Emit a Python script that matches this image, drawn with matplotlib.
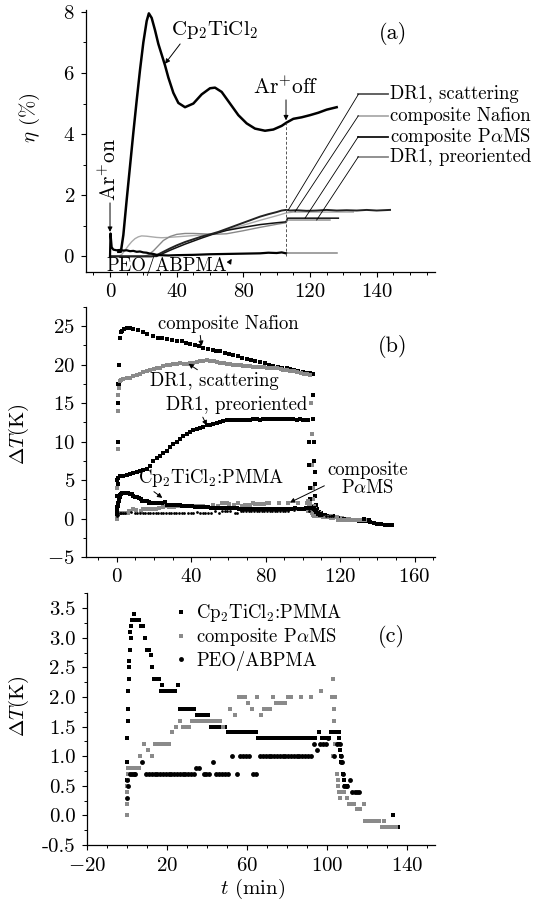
import numpy as np
import matplotlib
matplotlib.use('Agg')
import matplotlib.pyplot as plt
from matplotlib.ticker import MultipleLocator, FixedLocator

plt.rcParams.update({
    'font.family': 'serif',
    'font.serif': ['cmr10'],
    'mathtext.fontset': 'cm',
    'axes.formatter.use_mathtext': True,
    'axes.linewidth': 0.9,
})

# ---------------- panel (a): diffraction efficiency (%) vs t (min)
a_t_cp = [5, 6.5, 8, 10, 12, 14, 16, 18, 20, 22, 23.3, 25, 27, 29, 31, 33, 35, 38, 41, 45, 50, 55, 60, 63, 67,
          72, 77, 82, 87, 93, 98, 103, 106, 110, 115, 120, 125, 130, 136]
a_cp = [0.15, 0.15, 0.7, 1.85, 2.95, 4.05, 5.1, 6.1, 7.0, 7.7, 7.95, 7.8, 7.4, 6.95, 6.6, 6.25, 5.85, 5.35, 5.02,
        4.88, 5.0, 5.3, 5.5, 5.52, 5.38, 5.0, 4.62, 4.35, 4.18, 4.11, 4.15, 4.27, 4.38, 4.5, 4.55, 4.62, 4.7, 4.8, 4.88]

a_t_peo = [0, 0.3, 1, 2, 4, 6, 8, 10, 12, 14, 16, 18, 20, 22, 24, 26, 28, 30, 35, 40, 50, 60, 70, 80, 90, 95,
           100, 103, 105.6]
a_peo = [0.0, 0.75, 0.3, 0.22, 0.2, 0.21, 0.19, 0.2, 0.17, 0.18, 0.15, 0.16, 0.13, 0.12, 0.09, 0.08, 0.05, 0.04,
         0.03, 0.04, 0.05, 0.07, 0.08, 0.09, 0.1, 0.12, 0.11, 0.13, 0.1]
a_t_peo_off = [105.6, 136]
a_peo_off = [0.12, 0.12]

a_t_scat = [0, 25, 28, 32, 36, 40, 45, 50, 55, 60, 65, 70, 75, 80, 85, 90, 95, 100, 103, 105.6, 108, 112, 118,
            124, 130, 136, 142, 148, 154, 160, 168]
a_scat = [0, 0, 0.04, 0.15, 0.26, 0.36, 0.47, 0.56, 0.65, 0.72, 0.8, 0.9, 1.0, 1.1, 1.2, 1.3, 1.38, 1.45, 1.5,
          1.52, 1.5, 1.51, 1.49, 1.5, 1.52, 1.5, 1.51, 1.5, 1.52, 1.5, 1.52]

a_t_pams = [0, 28, 32, 36, 40, 45, 50, 55, 62, 70, 80, 90, 100, 105.6, 106.5, 115, 125, 137]
a_pams = [0, 0, 0.1, 0.2, 0.29, 0.4, 0.5, 0.6, 0.73, 0.85, 0.95, 1.04, 1.1, 1.13, 1.25, 1.25, 1.25, 1.25]

a_t_naf = [0, 5, 7, 9, 11, 13, 15, 17, 19, 22, 25, 28, 31, 35, 40, 45, 50, 55, 62, 70, 80, 90, 100, 105.6,
           110, 120, 130, 140, 146]
a_naf = [0, 0, 0.06, 0.2, 0.35, 0.48, 0.58, 0.64, 0.67, 0.66, 0.64, 0.62, 0.61, 0.62, 0.64, 0.66, 0.68, 0.7,
         0.74, 0.86, 1.02, 1.18, 1.33, 1.42, 1.45, 1.45, 1.45, 1.45, 1.45]

a_t_pre = [0, 20, 23, 26, 29, 32, 36, 40, 45, 50, 55, 62, 70, 80, 90, 100, 105.6, 106.5, 115, 125, 132]
a_pre = [0, 0, 0.05, 0.18, 0.35, 0.52, 0.65, 0.72, 0.75, 0.75, 0.74, 0.72, 0.74, 0.84, 0.95, 1.05, 1.1, 1.19,
         1.19, 1.19, 1.19]

a_labels = ['DR1, scattering', 'composite Nafion', r'composite P$\alpha$MS', 'DR1, preoriented']
a_colors = ['#555555', '#aaaaaa', '#111111', '#888888']
a_label_y = [5.3, 4.6, 3.92, 3.26]
a_tip_t = [107, 111, 117, 124]
a_tip_y = [1.52, 1.46, 1.25, 1.19]
t_off = 105.6

# ---------------- panel (b): big temperature rises (t, dT)
b_nafion = [(0, 0), (0.3, 5), (0.5, 10), (0.7, 15), (0.9, 17.5), (1.1, 17.3), (1.4, 20), (1.8, 23.5), (2.3, 24.2),
            (3, 24.4), (4, 24.6), (5.4, 24.75), (7, 24.7), (9, 24.6), (11.6, 24.5), (14, 24.2), (16.5, 23.9),
            (19.7, 23.65), (22, 23.5), (24.5, 23.4), (26.8, 23.3), (29.5, 23.2), (32.2, 23.1), (35, 23.0),
            (37, 22.8), (39.4, 22.66), (42, 22.5), (44, 22.35), (46.6, 22.2), (49, 22.0), (51.5, 21.9),
            (53.5, 21.8), (55.5, 21.7), (58, 21.5), (60.5, 21.4), (62.7, 21.25), (65, 21.1), (67.5, 20.9),
            (69.9, 20.75), (72, 20.6), (74.5, 20.45), (77, 20.3), (79.5, 20.2), (82, 20.0), (84.2, 19.85),
            (86.5, 19.7), (89, 19.6), (91.5, 19.5), (93, 19.4), (95, 19.3), (97.5, 19.2), (100, 19.0),
            (102, 18.9), (104, 18.85), (105.2, 18.8), (105.5, 16), (105.7, 13), (105.9, 10), (106.1, 7.5),
            (106.3, 6), (106.5, 4.5), (106.7, 3), (107, 1.8), (107.5, 1.2), (108.5, 0.9), (110, 0.7), (112, 0.5),
            (114, 0.4), (116, 0.3), (118, 0.2), (120, 0.1), (122, 0.0), (124, -0.1), (126, -0.15), (128, -0.2),
            (130, -0.25), (132, -0.25), (134, -0.3), (136, -0.4), (138, -0.55), (140, -0.7), (142, -0.72),
            (144, -0.75), (146, -0.75), (148, -0.75)]

b_scatter = [(0, 0), (0.3, 4), (0.5, 9), (0.7, 14), (0.9, 16), (1.2, 17), (1.8, 17.8), (2.5, 18.0), (3.5, 18.1),
             (5.4, 18.2), (7, 18.3), (9, 18.5), (10.7, 18.6), (12.5, 18.8), (14.3, 19.0), (16.1, 19.2),
             (18, 19.35), (20, 19.45), (21.5, 19.5), (23.3, 19.6), (25, 19.75), (27, 19.9), (28.7, 20.0),
             (30.5, 20.05), (32.5, 20.1), (34, 20.15), (36, 20.1), (37.6, 20.1), (39.5, 20.15), (41, 20.2),
             (43, 20.3), (45, 20.4), (46.5, 20.5), (48.4, 20.6), (50, 20.5), (52, 20.4), (53.7, 20.3),
             (55.5, 20.2), (57.5, 20.15), (59, 20.1), (60.8, 20.05), (62.7, 20.0), (64.5, 19.95), (66.5, 19.9),
             (68, 19.85), (70, 19.8), (71.5, 19.75), (73.4, 19.7), (75.5, 19.7), (77, 19.65), (79, 19.65),
             (81, 19.6), (82.5, 19.6), (84.2, 19.6), (86, 19.5), (88, 19.4), (89.5, 19.35), (91.5, 19.25),
             (93, 19.15), (95, 19.1), (97, 19.0), (99, 18.9), (100.5, 18.8), (102.3, 18.75), (103.9, 18.65),
             (104.5, 15), (104.8, 11), (105.1, 7), (105.4, 4), (105.7, 2.5), (106, 1.6), (106.5, 1.2),
             (107.5, 0.9), (109, 0.7), (111, 0.55), (113, 0.4), (115, 0.3), (117, 0.2), (119, 0.1), (121, 0.05),
             (123, 0.0), (125, -0.05), (127, -0.1), (129, -0.1), (131, -0.15), (133, -0.2)]

b_preor = [(0, 0), (0.2, 1.5), (0.4, 3), (0.6, 4.5), (0.9, 5.3), (1.5, 5.5), (3.6, 5.6), (5.4, 5.7), (7, 5.85),
           (8.9, 5.95), (10.7, 6.0), (12.5, 6.2), (14.3, 6.35), (16.1, 6.5), (18, 6.9), (19.7, 7.5), (21.5, 7.9),
           (23.3, 8.2), (25, 8.5), (26.8, 8.85), (28.7, 9.3), (30.4, 9.7), (32.2, 10.0), (34, 10.35),
           (35.8, 10.7), (37.6, 11.0), (39.4, 11.2), (41.2, 11.45), (43, 11.6), (44.7, 11.75), (46.5, 11.9),
           (48.4, 12.1), (50, 12.2), (51.9, 12.3), (53.7, 12.45), (55.5, 12.6), (57.3, 12.7), (59.1, 12.75),
           (61, 12.8), (62.7, 12.85), (64.5, 12.85), (66.3, 12.85), (68, 12.8), (69.8, 12.85), (71.6, 12.85),
           (73.4, 12.9), (75.2, 12.9), (77, 12.85), (78.8, 12.9), (80.6, 12.95), (82.4, 13.0), (84.2, 12.95),
           (86, 13.0), (87.8, 13.0), (89.6, 12.95), (91.3, 12.95), (93.1, 12.9), (94.9, 12.9), (96.7, 12.85),
           (98.5, 12.9), (100.3, 12.85), (102, 12.85), (103, 12.8), (103.3, 10), (103.5, 7), (103.7, 4),
           (104, 2.5), (104.5, 1.5), (105.5, 1.0), (107, 0.8), (109, 0.6), (111, 0.45), (113, 0.3), (116, 0.2),
           (119, 0.1), (122, 0.0), (125, -0.1), (128, -0.15), (131, -0.2)]

# ---------------- panel (c): small temperature rises (t, dT)
c_pmma = [(0.0, 0.6), (0.1, 0.9), (0.3, 1.3), (0.5, 1.6), (0.7, 1.8), (0.8, 2.1), (1.1, 2.3), (1.2, 2.5),
          (1.3, 2.6), (1.6, 2.8), (1.9, 3.0), (1.7, 3.1), (2.2, 3.2), (2.6, 3.3), (3.7, 3.4), (4.3, 3.3),
          (5.3, 3.3), (6.3, 3.3), (7.2, 3.2), (8.2, 3.2), (9.0, 3.0), (9.9, 2.8), (11.0, 2.8), (12.0, 2.7),
          (12.8, 2.5), (13.6, 2.3), (14.9, 2.3), (16.2, 2.3), (17.5, 2.2), (17.2, 2.1), (18.6, 2.1), (20.0, 2.1),
          (21.4, 2.1), (22.8, 2.1), (24.2, 2.1), (25.8, 2.2), (26.8, 1.8), (28.2, 1.8), (29.6, 1.8), (31.0, 1.8),
          (32.4, 1.8), (33.8, 1.8), (35.0, 1.7), (36.4, 1.7), (37.8, 1.7), (39.2, 1.7), (40.6, 1.7), (42.0, 1.5),
          (43.4, 1.5), (44.8, 1.5), (46.2, 1.5), (47.6, 1.5), (49.0, 1.5), (50.8, 1.4), (52.2, 1.4), (53.6, 1.4),
          (55.0, 1.4), (56.4, 1.4), (57.8, 1.4), (59.2, 1.4), (60.6, 1.4), (62.0, 1.4), (63.4, 1.4), (64.8, 1.4),
          (65.8, 1.3), (67.2, 1.3), (68.6, 1.3), (70.0, 1.3), (71.4, 1.3), (72.8, 1.3), (74.2, 1.3), (75.6, 1.3),
          (77.0, 1.3), (78.4, 1.3), (79.8, 1.3), (81.2, 1.3), (82.6, 1.3), (84.0, 1.3), (85.4, 1.3), (86.8, 1.3),
          (88.2, 1.3), (89.6, 1.3), (91.0, 1.3), (92.4, 1.3), (93.8, 1.3), (95.8, 1.4), (97.7, 1.3), (99.2, 1.3),
          (100.8, 1.3), (101.8, 1.4), (103.2, 1.4), (104.6, 1.4), (106.0, 1.4), (105.8, 1.3), (106.2, 1.2),
          (106.5, 1.1), (106.8, 1.0), (107.2, 0.9), (107.9, 0.7), (108.4, 0.6), (109.0, 0.5), (109.8, 0.5),
          (133.1, 0.0), (135.4, -0.2)]

c_pams = [(0.0, 0.0), (0.0, 0.2), (0.1, 0.4), (0.3, 0.5), (0.6, 0.6), (0.4, 0.7), (0.8, 0.8), (2.2, 0.8),
          (3.6, 0.8), (5.0, 0.8), (6.0, 0.8), (6.7, 1.0), (8.6, 1.2), (10.6, 1.1), (12.8, 1.0), (14.2, 1.2),
          (15.6, 1.2), (17.0, 1.2), (18.4, 1.2), (19.8, 1.2), (21.2, 1.2), (22.8, 1.4), (24.7, 1.5), (26.7, 1.6),
          (28.2, 1.5), (29.6, 1.5), (31.0, 1.5), (32.5, 1.6), (33.9, 1.6), (35.3, 1.6), (36.7, 1.6), (38.1, 1.6),
          (39.5, 1.6), (40.9, 1.6), (42.3, 1.6), (43.7, 1.6), (45.1, 1.6), (46.5, 1.6), (48.3, 1.5), (51.7, 1.8),
          (54.3, 1.7), (56.3, 2.0), (57.7, 2.0), (59.1, 2.0), (60.5, 1.9), (62.8, 1.8), (65.0, 2.0), (67.2, 1.7),
          (68.7, 1.8), (70.2, 1.8), (71.7, 1.8), (73.0, 2.0), (74.5, 1.9), (76.0, 1.9), (77.5, 1.9), (79.0, 1.9),
          (80.5, 2.0), (82.0, 2.0), (87.0, 2.0), (92.0, 2.0), (97.2, 2.1), (102.3, 2.0), (103.0, 2.3),
          (103.8, 2.0), (103.4, 1.8), (103.6, 1.6), (103.8, 1.2), (103.0, 1.0), (104.8, 0.7), (105.3, 0.6),
          (105.5, 0.5), (105.8, 0.4), (107.0, 0.4), (108.3, 0.4), (106.5, 0.3), (110.0, 0.3), (110.8, 0.2),
          (112.2, 0.2), (113.6, 0.2), (115.0, 0.1), (116.4, 0.1), (118.4, 0.2), (118.9, -0.1), (120.3, -0.1),
          (121.7, -0.1), (123.1, -0.1), (124.5, -0.1), (125.9, -0.1), (127.3, -0.2), (128.7, -0.1),
          (128.7, -0.2), (130.1, -0.2), (131.5, -0.2), (132.9, -0.2), (134.3, -0.2)]

c_peo = [(0.0, 0.3), (0.3, 0.6), (0.6, 0.5), (1.5, 0.7), (2.5, 0.7), (3.5, 0.7), (4.3, 0.7), (7.5, 0.9),
         (9.7, 0.7), (11.1, 0.7), (12.5, 0.7), (13.9, 0.7), (15.3, 0.7), (16.7, 0.7), (18.1, 0.7), (19.5, 0.7),
         (20.9, 0.7), (22.3, 0.7), (23.7, 0.7), (25.1, 0.7), (26.5, 0.7), (27.9, 0.7), (29.3, 0.7), (30.7, 0.7),
         (32.1, 0.7), (33.5, 0.7), (34.8, 0.8), (36.2, 0.8), (38.4, 0.7), (39.8, 0.7), (41.2, 0.7), (43.0, 0.9),
         (44.8, 0.7), (46.2, 0.7), (47.6, 0.7), (49.0, 0.7), (50.4, 0.7), (52.8, 1.0), (55.0, 0.7), (56.7, 1.0),
         (58.1, 1.0), (59.5, 1.0), (60.9, 1.0), (63.3, 0.7), (64.7, 0.7), (66.7, 1.0), (68.1, 1.0), (69.5, 1.0),
         (70.9, 1.0), (72.3, 1.0), (73.7, 1.0), (75.1, 1.0), (76.5, 1.0), (77.9, 1.0), (79.3, 1.0), (80.7, 1.0),
         (82.1, 1.0), (83.5, 1.0), (84.9, 1.0), (86.3, 1.0), (87.7, 1.0), (89.1, 1.0), (90.5, 1.0), (91.9, 1.0),
         (93.5, 1.2), (95.0, 1.1), (96.7, 1.2), (98.1, 1.2), (99.5, 1.2), (100.5, 1.3), (103.5, 1.0),
         (105.0, 1.2), (106.3, 1.2), (106.8, 1.0), (107.2, 0.9), (107.7, 0.9), (108.0, 0.7), (108.6, 0.5),
         (109.4, 0.5), (110.2, 0.5), (111.3, 0.6), (112.6, 0.4), (113.8, 0.4), (115.0, 0.4), (116.1, 0.4)]

GRAY = '#8a8a8a'
ARR = dict(arrowstyle='-|>', color='k', lw=0.7, mutation_scale=7, shrinkA=0, shrinkB=0)


def xy(pairs):
    arr = np.array(pairs, dtype=float)
    return arr[:, 0], arr[:, 1]


def style_axes(ax, xpad=4.5, ypad=4.5):
    for s in ['top', 'right']:
        ax.spines[s].set_visible(False)
    ax.tick_params(which='major', direction='out', length=3.5, width=0.8, labelsize=15)
    ax.tick_params(which='minor', direction='out', length=2.5, width=0.7)
    ax.tick_params(axis='x', which='major', pad=xpad)
    ax.tick_params(axis='y', which='major', pad=ypad)


fig = plt.figure(figsize=(5.42, 9.09), dpi=100)
ax_a = fig.add_axes([0.1587, 0.7008, 0.6439, 0.2882])
ax_b = fig.add_axes([0.1587, 0.3869, 0.6439, 0.2757])
ax_c = fig.add_axes([0.1600, 0.0704, 0.6426, 0.2769])

# ---- (a)
ax = ax_a
style_axes(ax)
ax.plot(a_t_naf, a_naf, color=a_colors[1], lw=1.0)
ax.plot(a_t_pre, a_pre, color=a_colors[3], lw=1.0)
ax.plot(a_t_pams, a_pams, color=a_colors[2], lw=1.1)
ax.plot(a_t_scat, a_scat, color='#222222', lw=1.4)
ax.plot(a_t_peo_off, a_peo_off, color='#888888', lw=1.1)
ax.plot(a_t_peo, a_peo, color='k', lw=1.6)
ax.plot(a_t_cp, a_cp, color='k', lw=1.8)
ax.vlines(t_off, 0, 4.35, colors='#555555', linestyles=(0, (3, 2)), lw=0.7)

for lab, c, ly, tt, ty in zip(a_labels, a_colors, a_label_y, a_tip_t, a_tip_y):
    ax.plot([149, 167], [ly, ly], color=c, lw=1.3, clip_on=False)
    ax.plot([149, tt], [ly, ty], color='k', lw=0.6, clip_on=False)
    ax.text(168, ly, lab, fontsize=13.5, va='center', ha='left', clip_on=False)

ax.annotate(r'Cp$_2$TiCl$_2$', xy=(33, 6.3), xytext=(62.7, 7.4), fontsize=15, ha='center', va='center',
            arrowprops=dict(ARR, relpos=(0.15, 0.1)))
ax.text(105.3, 5.55, r'Ar$^{+}$off', fontsize=15.5, ha='center', va='center')
ax.annotate('', xy=(t_off, 4.45), xytext=(t_off, 5.12), arrowprops=ARR)
ax.text(-0.8, 2.85, r'Ar$^{+}$on', fontsize=15.5, ha='center', va='center', rotation=90)
ax.annotate('', xy=(0, 0.8), xytext=(0, 1.75), arrowprops=ARR)
ax.annotate('PEO/ABPMA', xy=(73, -0.08), xytext=(34, -0.33), fontsize=13.5, ha='center', va='center',
            arrowprops=dict(ARR, relpos=(1.0, 0.5)))
ax.text(170, 7.3, '(a)', fontsize=16, ha='center', va='center')

ax.set_xlim(-14.4, 195)
ax.set_ylim(-0.51, 8.06)
ax.xaxis.set_major_locator(FixedLocator([0, 40, 80, 120, 160]))
ax.set_xticklabels(['0', '40', '80', '120', '140'])
ax.xaxis.set_minor_locator(MultipleLocator(10))
ax.yaxis.set_major_locator(MultipleLocator(2))
ax.yaxis.set_minor_locator(MultipleLocator(1))
ax.set_ylabel(r'$\eta$ (%)', fontsize=15)
ax.yaxis.set_label_coords(-0.127, 0.59)

# ---- (b)
ax = ax_b
style_axes(ax)
t, v = xy(b_nafion)
ax.plot(t, v, 's', color='k', ms=2.2, mew=0)
t, v = xy(b_scatter)
ax.plot(t, v, 's', color=GRAY, ms=2.2, mew=0)
t, v = xy(b_preor)
ax.plot(t, v, 's', color='k', ms=2.2, mew=0)
t, v = xy(c_pams)
ax.plot(t, v, 's', color=GRAY, ms=2.2, mew=0)
t, v = xy(c_peo)
ax.plot(t, v, 'o', color='k', ms=2.0, mew=0)
t, v = xy(c_pmma)
ax.plot(t, v, 's', color='k', ms=2.6, mew=0)

ax.annotate('composite Nafion', xy=(45.6, 22.4), xytext=(59.8, 25.3), fontsize=13.5, ha='center',
            va='center', arrowprops=dict(ARR, relpos=(0.3, 0.0)))
ax.annotate('DR1, scattering', xy=(38.5, 20.1), xytext=(52.5, 17.8), fontsize=13.5, ha='center',
            va='center', arrowprops=dict(ARR, relpos=(0.4, 1.0)))
ax.annotate('DR1, preoriented', xy=(48.4, 12.1), xytext=(64.5, 14.7), fontsize=13.5, ha='center',
            va='center', arrowprops=dict(ARR, relpos=(0.25, 0.0)))
ax.annotate(r'Cp$_2$TiCl$_2$:PMMA', xy=(24.5, 2.7), xytext=(51, 5.3), fontsize=13.5, ha='center',
            va='center', arrowprops=dict(ARR, relpos=(0.08, 0.0)))
ax.annotate('composite\n' + r'P$\alpha$MS', xy=(93, 2.1), xytext=(134.7, 5.15), fontsize=13.5,
            ha='center', va='center', linespacing=1.0, arrowprops=dict(ARR, relpos=(0.0, 0.35)))
ax.text(148, 22.4, '(b)', fontsize=16, ha='center', va='center')

ax.set_xlim(-16.5, 171)
ax.set_ylim(-5, 27.5)
ax.xaxis.set_major_locator(FixedLocator([0, 40, 80, 120, 160]))
ax.xaxis.set_minor_locator(MultipleLocator(10))
ax.yaxis.set_major_locator(MultipleLocator(5))
ax.yaxis.set_minor_locator(MultipleLocator(2.5))
ax.set_ylabel(r'$\Delta T$(K)', fontsize=15)
ax.yaxis.set_label_coords(-0.158, 0.49)

# ---- (c)
ax = ax_c
style_axes(ax, xpad=5)
t, v = xy(c_pmma)
h1, = ax.plot(t, v, 's', color='k', ms=3.3, mew=0, label=r'Cp$_2$TiCl$_2$:PMMA')
t, v = xy(c_pams)
h2, = ax.plot(t, v, 's', color=GRAY, ms=3.3, mew=0, label=r'composite P$\alpha$MS')
t, v = xy(c_peo)
h3, = ax.plot(t, v, 'o', color='k', ms=3.5, mew=0, label='PEO/ABPMA')
ax.legend(handles=[h1, h2, h3], loc='upper left', bbox_to_anchor=(0.255, 0.965), frameon=False,
          fontsize=13.5, handlelength=0.6, handletextpad=0.5, labelspacing=0.12, borderpad=0,
          borderaxespad=0, numpoints=1)
ax.text(132, 3.02, '(c)', fontsize=16, ha='center', va='center')

ax.set_xlim(-20, 154)
ax.set_ylim(-0.5, 3.75)
ax.xaxis.set_major_locator(FixedLocator([-20, 20, 60, 100, 140]))
ax.xaxis.set_minor_locator(MultipleLocator(10))
ax.yaxis.set_major_locator(MultipleLocator(0.5))
ax.yaxis.set_minor_locator(MultipleLocator(0.25))
ax.yaxis.set_major_formatter(matplotlib.ticker.FormatStrFormatter('%.1f'))
ax.set_ylabel(r'$\Delta T$(K)', fontsize=15)
ax.yaxis.set_label_coords(-0.16, 0.55)
ax.set_xlabel(r'$t$ (min)', fontsize=15)
ax.xaxis.set_label_coords(0.477, -0.128)

fig.savefig('out.png', dpi=100)
